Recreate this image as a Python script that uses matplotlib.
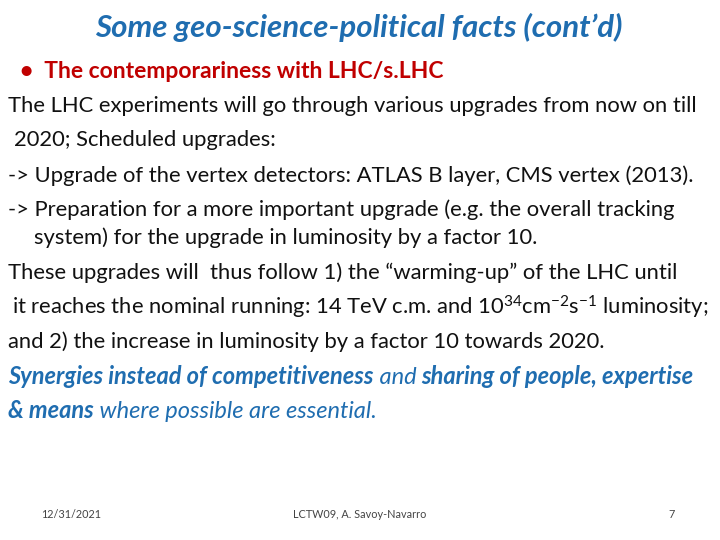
import matplotlib
matplotlib.use("Agg")
import matplotlib.pyplot as plt

FONT = ["Lato", "DejaVu Sans"]
plt.rcParams['font.family'] = FONT
plt.rcParams['mathtext.fontset'] = 'custom'
plt.rcParams['mathtext.rm'] = 'Lato'
plt.rcParams['mathtext.it'] = 'Lato:italic'

BLUE = "#1F6DB0"
RED = "#C00000"
BLACK = "#111111"

title = "Some geo-science-political facts (cont’d)"
bullet = "•  The contemporariness with LHC/s.LHC"
body_lines = [
    (8, "The LHC experiments will go through various upgrades from now on till"),
    (14, "2020; Scheduled upgrades:"),
    (8, "-> Upgrade of the vertex detectors: ATLAS B layer, CMS vertex (2013)."),
    (8, "-> Preparation for a more important upgrade (e.g. the overall tracking"),
    (34, "system) for the upgrade in luminosity by a factor 10."),
    (8, "These upgrades will  thus follow 1) the “warming-up” of the LHC until"),
    (12, r"it reaches the nominal running: 14 TeV c.m. and 10$^{34}$cm$^{-2}$s$^{-1}$ luminosity;"),
    (8, "and 2) the increase in luminosity by a factor 10 towards 2020."),
]
line_y = [106, 140, 176, 210, 238, 273, 307, 342]
mixed = [
    (377, [("Synergies instead of competitiveness", "bold"), (" and ", "normal"),
           ("sharing of people, expertise", "bold")]),
    (411, [("& means", "bold"), (" where possible are essential.", "normal")]),
]
footer = [("12/31/2021", 71), ("LCTW09, A. Savoy-Navarro", 360), ("7", 672)]

fig = plt.figure(figsize=(7.2, 5.4), dpi=100)
W, H = 720, 540
def fy(y): return 1 - y / H

fig.text(359 / W, fy(27), title, ha='center', va='center', fontsize=22.5,
         style='italic', weight='bold', color=BLUE)
fig.text(20 / W, fy(71), bullet, ha='left', va='center', fontsize=16.5,
         weight='bold', color=RED)
for (x, s), y in zip(body_lines, line_y):
    fig.text(x / W, fy(y), s, ha='left', va='center', fontsize=15.8, color=BLACK)

fig.canvas.draw()
r = fig.canvas.get_renderer()
for y, segs in mixed:
    x = 8
    for s, w in segs:
        t = fig.text(x / W, fy(y), s, ha='left', va='center', fontsize=17,
                     style='italic', weight=w, color=BLUE)
        x = t.get_window_extent(r).x1
for s, x in footer:
    fig.text(x / W, fy(515), s, ha='center', va='center', fontsize=7.8, color="#444444")

fig.savefig("out.png", dpi=100)
